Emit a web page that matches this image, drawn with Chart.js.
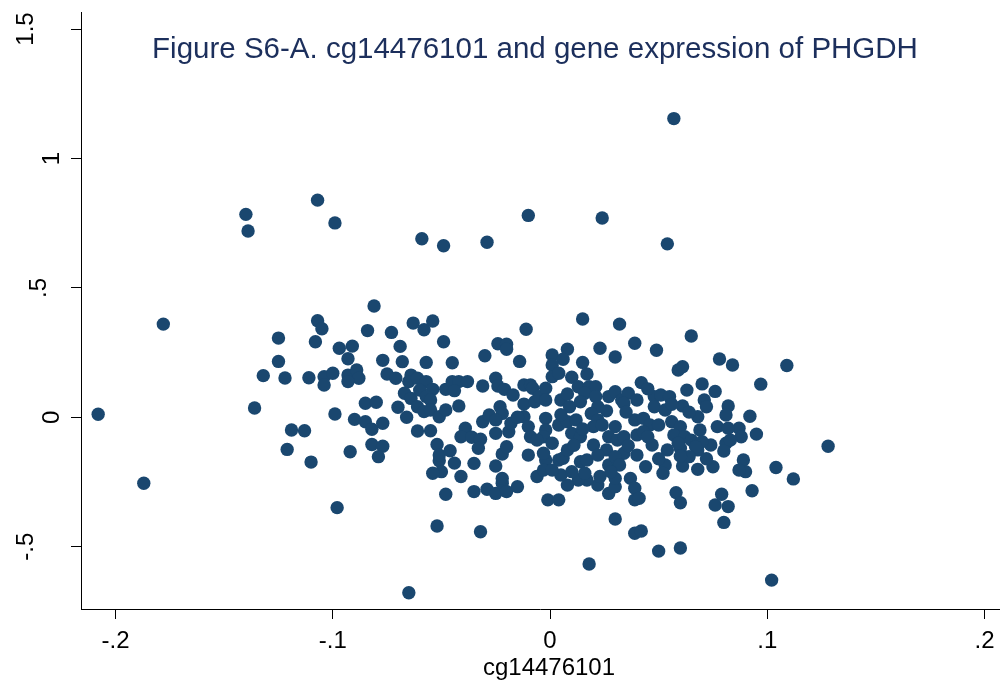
<!DOCTYPE html>
<html>
<head>
<meta charset="utf-8">
<script src="https://cdn.jsdelivr.net/npm/chart.js@4.4.0/dist/chart.umd.min.js"></script>
<style>
html, body { margin: 0; padding: 0; background: #fff; }
</style>
</head>
<body>
<canvas id="chart" width="1006" height="687"></canvas>
<script>
var xTicks = [-0.2, -0.1, 0, 0.1, 0.2];
var xTickLabels = ['-.2', '-.1', '0', '.1', '.2'];
var yTicks = [-0.5, 0, 0.5, 1, 1.5];
var yTickLabels = ['-.5', '0', '.5', '1', '1.5'];

var chartTitle = 'Figure S6-A. cg14476101 and gene expression of PHGDH';
var xTitle = 'cg14476101';

// methylation (x) and expression (y)
var cgValues = [
  -0.208, -0.187, -0.178, -0.140, -0.139, -0.107, -0.099, -0.059, -0.049, -0.029,
  -0.010, 0.024, 0.057, 0.054, -0.098, -0.052, -0.032, -0.065, 0.018, 0.050,
  0.060, 0.102, 0.128, 0.112, 0.104, 0.109, 0.097, 0.095, 0.092, 0.087,
  0.088, 0.089, 0.090, 0.093, 0.079, 0.076, 0.082, 0.080, 0.058, 0.060,
  0.030, 0.039, 0.042, 0.087, 0.075, 0.068, 0.053, 0.052, 0.061, 0.040,
  0.044, 0.027, 0.030, 0.037, 0.039, 0.039, 0.041, 0.022, 0.017, 0.013,
  0.008, 0.005, 0.020, 0.027, 0.031, 0.034, -0.002, 0.004, 0.054, 0.060,
  0.068, 0.074, 0.081, -0.001, 0.004, -0.051, -0.050, -0.048, -0.035, -0.029,
  -0.025, -0.022, -0.020, -0.015, -0.006, -0.003, -0.022, -0.081, -0.107, -0.105,
  -0.084, -0.073, -0.063, -0.058, -0.054, -0.011, -0.108, -0.069, -0.049, -0.097,
  -0.091, -0.093, -0.024, -0.020, -0.020, -0.030, -0.014, -0.077, -0.068, -0.057,
  -0.045, -0.111, -0.104, -0.100, -0.104, -0.093, -0.089, -0.088, -0.093, -0.075,
  -0.071, -0.064, -0.065, -0.061, -0.057, -0.054, -0.067, -0.064, -0.060, -0.057,
  -0.055, -0.048, -0.045, -0.042, -0.038, -0.044, -0.031, -0.025, -0.024, -0.021,
  -0.017, -0.012, -0.009, -0.012, -0.007, -0.085, -0.080, -0.099, -0.070, -0.066,
  -0.061, -0.058, -0.055, -0.051, -0.048, -0.042, -0.090, -0.085, -0.082, -0.077,
  -0.113, -0.061, -0.055, -0.039, -0.041, -0.036, -0.032, -0.033, -0.031, -0.028,
  -0.023, -0.022, -0.025, -0.025, -0.019, -0.018, -0.012, -0.010, -0.009, -0.092,
  -0.082, -0.077, -0.079, -0.110, -0.052, -0.051, -0.046, -0.044, -0.035, -0.025,
  -0.020, -0.010, -0.054, -0.041, -0.022, -0.125, -0.125, -0.132, -0.122, -0.136,
  -0.119, -0.121, 0.015, 0.032, 0.065, 0.039, 0.023, 0.049, 0.008, 0.030,
  0.001, 0.006, 0.001, 0.015, 0.017, 0.059, 0.061, 0.078, 0.084, 0.001,
  0.004, 0.010, 0.042, 0.070, -0.008, -0.005, -0.002, -0.002, 0.005, 0.009,
  0.013, 0.018, 0.021, 0.016, 0.021, 0.014, 0.022, 0.027, 0.030, 0.033,
  0.036, 0.034, 0.040, 0.048, 0.051, 0.055, 0.048, 0.053, 0.061, 0.071,
  0.072, 0.082, 0.081, -0.002, -0.002, -0.003, 0.004, 0.008, 0.012, 0.010,
  0.014, 0.019, 0.022, 0.020, 0.024, 0.030, 0.027, 0.031, 0.034, 0.039,
  0.043, 0.046, 0.040, 0.043, 0.050, 0.056, 0.060, 0.057, 0.062, 0.059,
  0.068, 0.069, 0.065, 0.070, 0.067, 0.077, 0.082, 0.083, -0.003, 0.001,
  0.006, 0.008, 0.014, 0.017, 0.026, 0.030, 0.032, 0.064, 0.001, 0.010,
  0.016, 0.023, 0.030, 0.008, 0.026, 0.011, 0.022, 0.047, 0.063, 0.076,
  0.080, -0.006, 0.045, 0.035, 0.015, 0.050, 0.060, 0.072, 0.036, 0.056,
  0.064, 0.005, -0.015, 0.045, 0.028
];
var phgdhValues = [
  0.012, -0.255, 0.360, 0.784, 0.720, 0.839, 0.751, 0.690, 0.663, 0.676,
  0.780, 0.770, 1.154, 0.670, -0.349, -0.420, -0.442, -0.678, -0.567, -0.517,
  -0.505, -0.629, -0.112, -0.238, -0.194, 0.200, 0.128, -0.065, 0.004, -0.042,
  -0.075, -0.165, -0.210, -0.284, -0.297, -0.339, -0.345, -0.406, -0.291, -0.330,
  -0.393, -0.448, -0.439, -0.204, -0.191, -0.201, -0.184, -0.216, -0.188, -0.146,
  -0.191, -0.294, -0.268, -0.236, -0.274, -0.319, -0.313, -0.262, -0.242, -0.242,
  -0.262, -0.223, -0.107, -0.184, -0.165, -0.139, -0.165, -0.165, -0.126, -0.120,
  -0.126, -0.107, -0.100, -0.319, -0.319, -0.168, -0.210, -0.297, -0.287, -0.278,
  -0.294, -0.255, -0.287, -0.268, -0.229, -0.204, -0.142, 0.430, 0.373, 0.342,
  0.335, 0.328, 0.364, 0.338, 0.372, 0.340, 0.292, 0.274, 0.292, 0.267,
  0.275, 0.226, 0.284, 0.282, 0.263, 0.238, 0.216, 0.220, 0.215, 0.212,
  0.211, 0.153, 0.157, 0.170, 0.125, 0.163, 0.183, 0.151, 0.138, 0.167,
  0.151, 0.163, 0.138, 0.151, 0.138, 0.108, 0.093, 0.073, 0.105, 0.080,
  0.067, 0.108, 0.138, 0.138, 0.138, 0.103, 0.121, 0.151, 0.121, 0.108,
  0.086, 0.125, 0.125, 0.051, 0.060, 0.054, 0.058, 0.013, 0.039, 0.000,
  0.041, 0.022, 0.028, 0.002, 0.028, 0.044, -0.008, -0.017, -0.046, -0.023,
  -0.052, -0.053, -0.052, -0.042, -0.075, -0.077, -0.085, -0.120, -0.017, 0.009,
  0.041, 0.015, -0.010, -0.062, -0.056, -0.023, 0.002, -0.036, -0.075, -0.133,
  -0.105, -0.112, -0.152, -0.173, -0.105, -0.146, -0.129, -0.177, -0.178, -0.188,
  -0.114, -0.146, -0.216, -0.229, -0.236, 0.306, 0.216, 0.161, 0.152, 0.036,
  -0.049, -0.124, 0.380, 0.360, 0.314, 0.286, 0.267, 0.259, 0.263, 0.233,
  0.241, 0.224, 0.202, 0.212, 0.167, 0.183, 0.195, 0.225, 0.202, 0.157,
  0.170, 0.155, 0.134, 0.129, 0.112, 0.080, 0.112, 0.067, 0.067, 0.041,
  0.118, 0.118, 0.118, 0.093, 0.080, 0.060, 0.041, 0.080, 0.099, 0.067,
  0.093, 0.054, 0.067, 0.080, 0.086, 0.080, 0.041, 0.028, 0.044, 0.067,
  0.041, 0.044, 0.009, -0.004, -0.049, -0.075, -0.030, -0.017, -0.010, -0.062,
  -0.075, 0.015, -0.010, -0.036, -0.030, -0.036, -0.075, -0.088, -0.075, -0.010,
  -0.004, -0.030, -0.068, -0.056, -0.030, -0.017, -0.036, -0.068, -0.075, -0.100,
  0.002, -0.049, -0.088, -0.094, -0.114, -0.036, -0.042, -0.088, -0.139, -0.100,
  -0.158, -0.126, -0.172, -0.165, -0.126, -0.152, -0.184, -0.152, -0.204, -0.210,
  -0.216, -0.229, -0.236, 0.090, 0.025, -0.108, -0.146, -0.107, 0.105, 0.100,
  -0.130, -0.088, 0.110, 0.020, -0.045, -0.160, -0.150, -0.160, -0.110, 0.050,
  0.020, 0.010, 0.000, -0.075, -0.210
];

var stataNavy = '#1a476f';
var fontFamily = '"Liberation Sans", Arial, Helvetica, sans-serif';

// Stata-like extra text: rotated y labels, title inside the plot, x title
var extraText = {
  id: 'extraText',
  afterDraw: function(chart) {
    var ctx = chart.ctx;
    var ys = chart.scales.y;
    ctx.save();
    ctx.fillStyle = '#000';
    ctx.font = '24px ' + fontFamily;
    ctx.textAlign = 'center';
    ctx.textBaseline = 'alphabetic';
    yTicks.forEach(function(v, i) {
      var label = yTickLabels[i];
      ctx.save();
      ctx.translate(72 - 13 * label.length, ys.getPixelForValue(v));
      ctx.rotate(-Math.PI / 2);
      ctx.fillText(label, 0, 0);
      ctx.restore();
    });
    ctx.fillText(xTitle, 549, 675);
    ctx.fillStyle = '#1c2f5c';
    ctx.font = '29.5px ' + fontFamily;
    ctx.fillText(chartTitle, 535, 58);
    ctx.restore();
  }
};

var points = cgValues.map(function(x, i) {
  return { x: x, y: phgdhValues[i] };
});

var ctx = document.getElementById('chart').getContext('2d');
var myChart = new Chart(ctx, {
  type: 'scatter',
  data: {
    datasets: [{
      label: 'PHGDH',
      data: points,
      backgroundColor: stataNavy,
      borderWidth: 0,
      pointRadius: 6.7,
      pointHoverRadius: 6.7
    }]
  },
  options: {
    responsive: false,
    animation: false,
    events: [],
    devicePixelRatio: 1,
    layout: { padding: { top: 12, right: 3, left: 0, bottom: 0 } },
    plugins: {
      legend: { display: false },
      title: { display: false },
      tooltip: { enabled: false }
    },
    scales: {
      x: {
        type: 'linear',
        min: -0.2159,
        max: 0.2068,
        afterFit: function(s) { s.height = 78; },
        afterBuildTicks: function(s) {
          s.ticks = xTicks.map(function(v) { return { value: v }; });
        },
        ticks: {
          callback: function(v, i) { return xTickLabels[i]; },
          font: { family: fontFamily, size: 24 },
          color: '#000',
          padding: 8,
          maxRotation: 0,
          autoSkip: false
        },
        grid: { drawOnChartArea: false, drawTicks: true, tickLength: 10, tickColor: '#000', tickWidth: 1 },
        border: { display: true, color: '#000', width: 1 }
      },
      y: {
        type: 'linear',
        min: -0.7406,
        max: 1.5658,
        afterFit: function(s) { s.width = 81; },
        afterBuildTicks: function(s) {
          s.ticks = yTicks.map(function(v) { return { value: v }; });
        },
        ticks: { display: false },
        grid: { drawOnChartArea: false, drawTicks: true, tickLength: 10, tickColor: '#000', tickWidth: 1 },
        border: { display: true, color: '#000', width: 1 }
      }
    }
  },
  plugins: [extraText]
});
</script>
</body>
</html>
